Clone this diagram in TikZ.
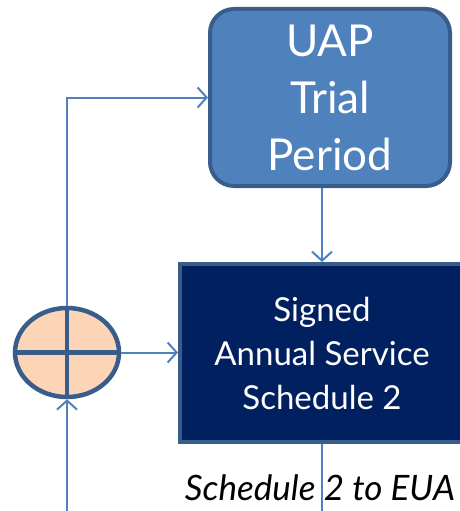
\documentclass[tikz,border=0pt]{standalone}
\usepackage{fontspec}
\setmainfont{Lato}
\usetikzlibrary{arrows.meta,shapes.geometric}
\definecolor{boxblue}{HTML}{4F81BD}
\definecolor{boxedge}{HTML}{385D8A}
\definecolor{navybox}{HTML}{002060}
\definecolor{peach}{HTML}{FBD5B5}

\begin{document}
\begin{tikzpicture}[
    x = 1pt,
    y = -1pt,
    link/.style = {draw=boxblue, line width=2pt},
    arr/.style = {link, -{Straight Barb[length=9pt, width=20pt, line width=2pt]}},
    ]
    % canvas
    \path[use as bounding box, clip] (0, 0) rectangle (460, 511);
    % trial box
    \node[draw=boxedge, fill=boxblue, line width=4pt, rounded corners=24pt,
      minimum width=240pt, minimum height=177pt, align=center, text=white,
      font=\fontsize{44}{57}\selectfont] (uap) at (330, 97.5) {UAP\\Trial\\Period};
    % schedule box
    \node[draw=boxedge, fill=navybox, line width=4pt,
      minimum width=284pt, minimum height=178pt, align=center, text=white,
      font=\fontsize{33}{44}\selectfont] (sched) at (322, 353)
      {Signed\\Annual Service\\Schedule 2};
    % summing junction
    \node[ellipse, draw=boxedge, fill=peach, line width=4.5pt, inner sep=0pt,
      minimum width=104pt, minimum height=89pt] (sum) at (67, 352.5) {};
    \draw[boxedge, line width=4.5pt] (sum.north) -- (sum.south);
    \draw[boxedge, line width=4.5pt] (sum.west) -- (sum.east);
    % free ends
    \coordinate (feed) at (67, 511);
    \coordinate (out) at (322, 511);
    % arrows
    \draw[arr] (sum.north) |- (uap.west);
    \draw[arr] (uap.south -| sched.north) -- (sched.north);
    \draw[arr] (sum.east) -- (sum.east -| sched.west);
    \draw[arr] (feed) -- (sum.south);
    \draw[link] (sched.south) -- (out);
    % annotations
    \node[anchor=base, font=\fontsize{35}{40}\selectfont\itshape] (toEUA)
      at (320, 500) {Schedule 2 to EUA};
  \end{tikzpicture}
\end{document}
